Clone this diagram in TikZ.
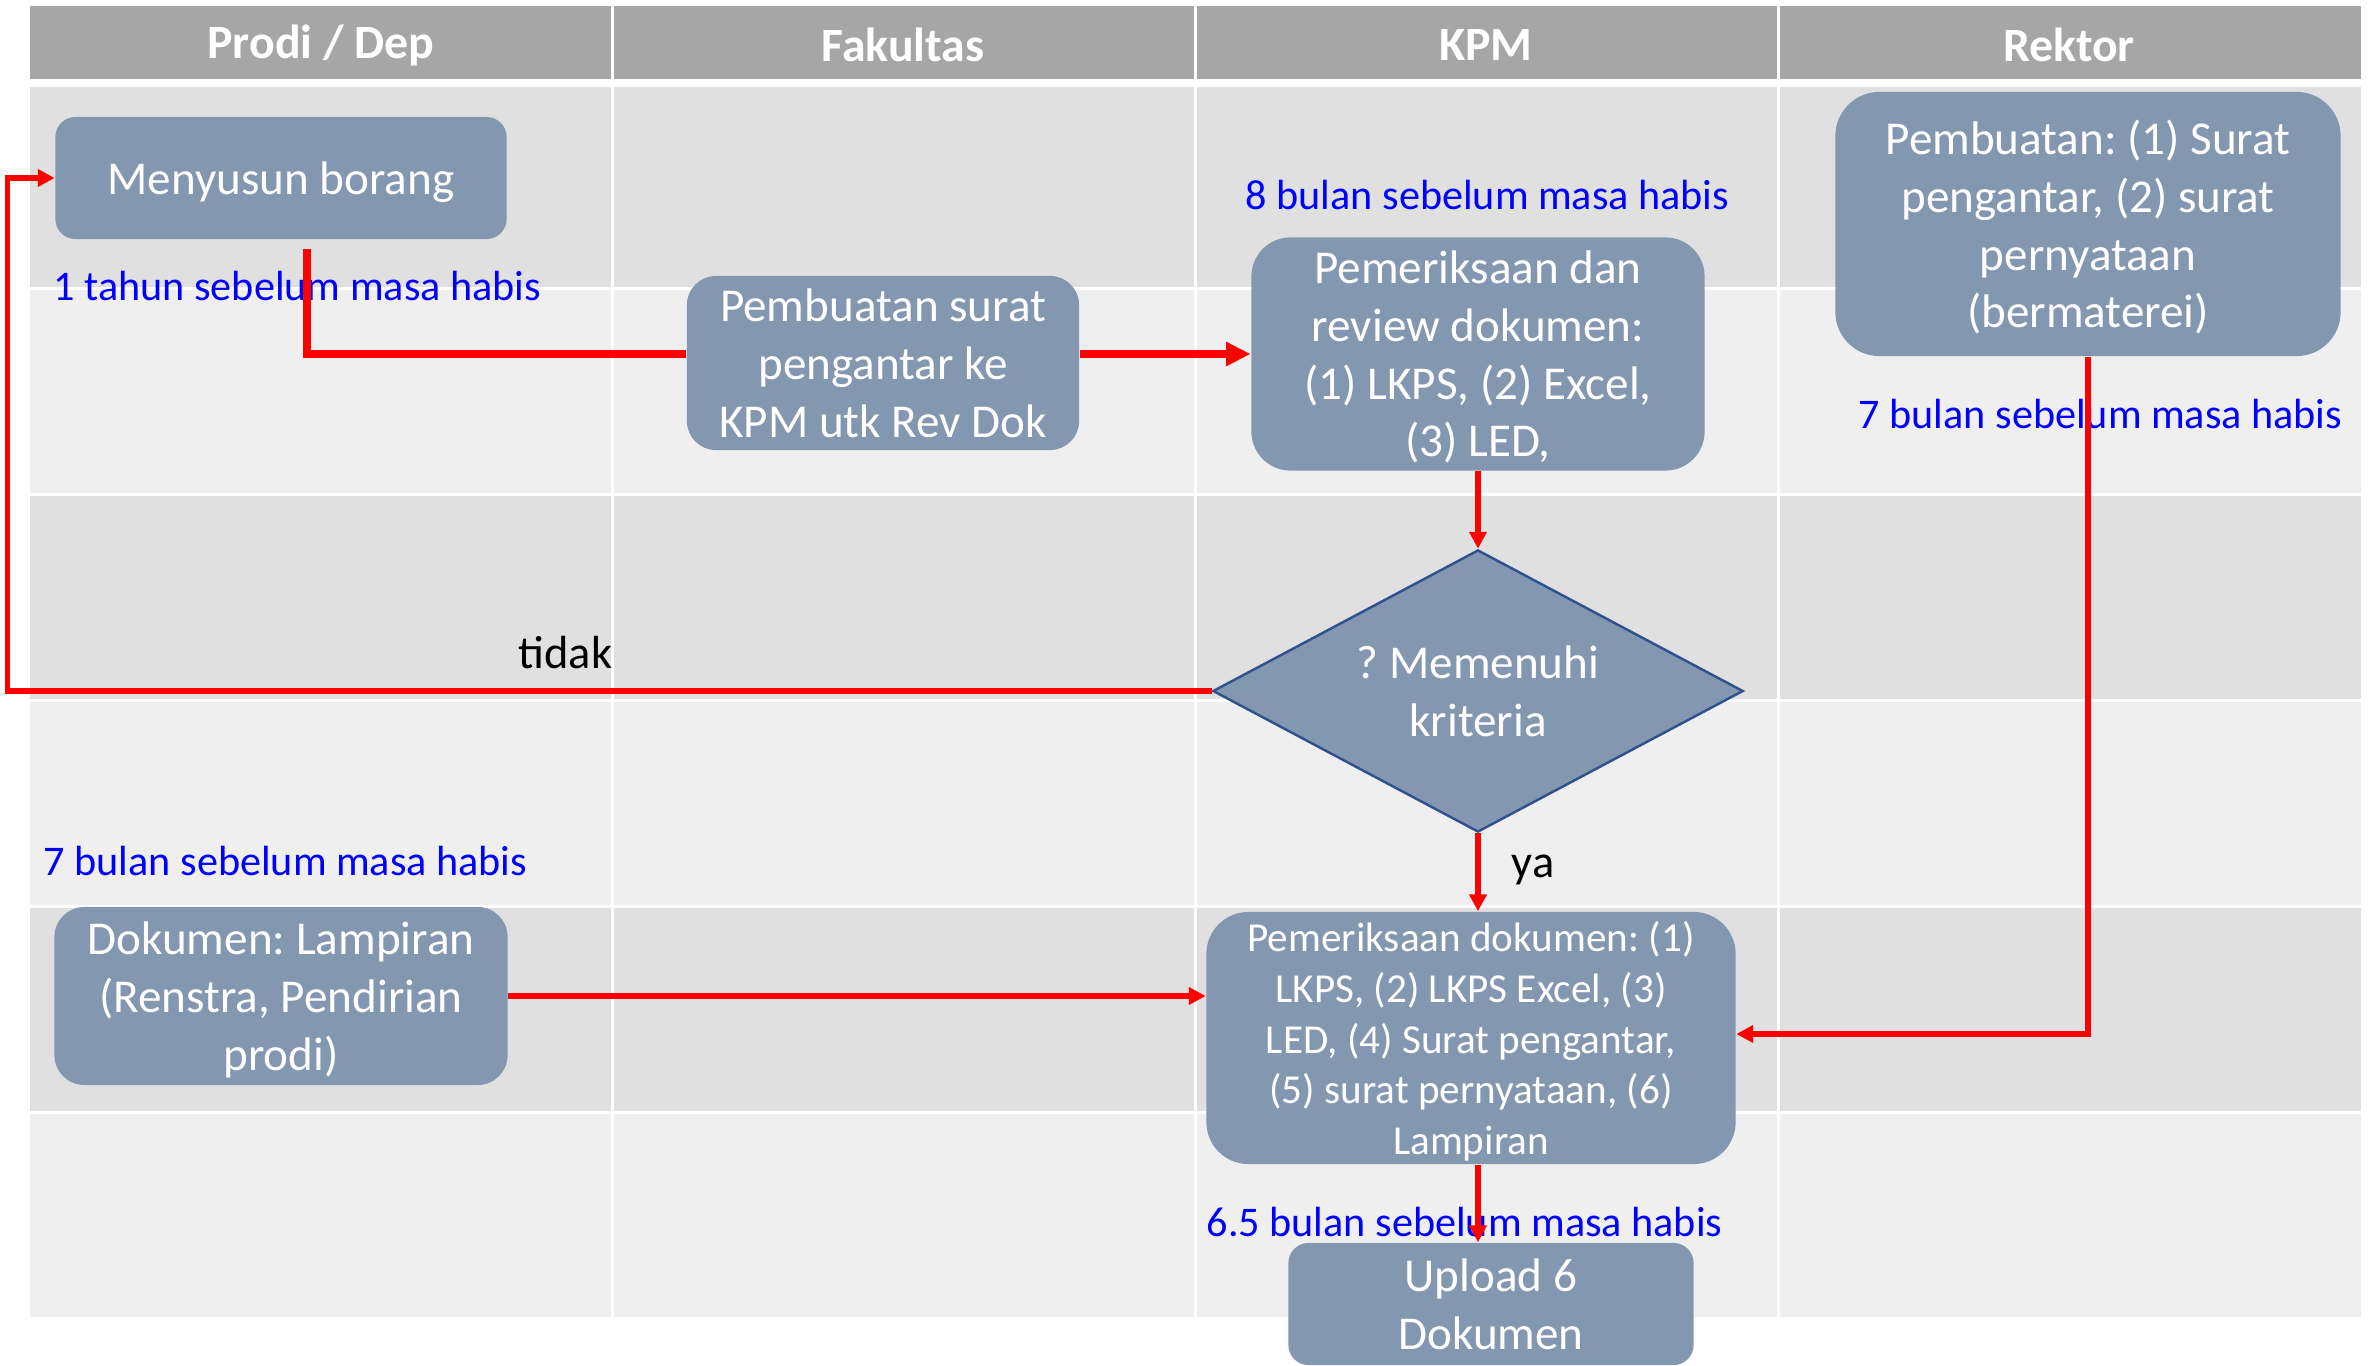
\documentclass[tikz,border=0pt]{standalone}
\usepackage{fontspec}
\setmainfont{Carlito}
\frenchspacing
\usetikzlibrary{arrows.meta,shapes.geometric,calc}
\definecolor{hdr}{RGB}{166,166,166}
\definecolor{rowA}{RGB}{224,224,224}
\definecolor{rowB}{RGB}{239,239,239}
\definecolor{boxc}{RGB}{132,151,176}
\definecolor{dborder}{RGB}{47,82,143}
\definecolor{lblue}{RGB}{0,0,255}
\definecolor{ared}{RGB}{255,0,0}
\begin{document}
\begin{tikzpicture}[x=0.01cm,y=-0.01cm,
  box/.style={fill=boxc, text=white, align=center, inner sep=0pt, text depth=0pt, font=\frenchspacing\fontsize{13.4}{16.4}\selectfont},
  smallbox/.style={box, font=\frenchspacing\fontsize{11.7}{14.4}\selectfont},
  hdrtxt/.style={text=white, font=\bfseries\fontsize{13.6}{16}\selectfont, inner sep=0pt},
  bluelbl/.style={text=lblue, font=\fontsize{12}{14}\selectfont, inner sep=0pt, anchor=base west},
  blacklbl/.style={text=black, font=\fontsize{13.2}{15}\selectfont, inner sep=0pt, anchor=base west},
  conn/.style={draw=ared, line width=1.45pt, -{Triangle[length=4.8pt,width=4.8pt]}},
  connthick/.style={draw=ared, line width=2pt, -{Triangle[length=7pt,width=6.5pt]}},
  sep/.style={draw=white, line width=0.03cm}
]
\useasboundingbox (0,0) rectangle (2374,1366);
\fill[white] (0,0) rectangle (2374,1366);
% header
\fill[hdr] (30,6) rectangle (2361,79);
% rows
\fill[rowA] (30,87) rectangle (2361,288);
\fill[rowB] (30,288) rectangle (2361,494);
\fill[rowA] (30,494) rectangle (2361,700);
\fill[rowB] (30,700) rectangle (2361,906);
\fill[rowA] (30,906) rectangle (2361,1112);
\fill[rowB] (30,1112) rectangle (2361,1317);
\foreach \y in {288,494,700,906,1112} \draw[sep] (30,\y) -- (2361,\y);
\foreach \x in {612,1195,1778} \draw[sep] (\x,6) -- (\x,1317);
% header texts
\node[hdrtxt] (h1) at (321,45) {Prodi / Dep};
\node[hdrtxt] (h2) at (903,45) {Fakultas};
\node[hdrtxt] (h3) at (1486,45) {KPM};
\node[hdrtxt] (h4) at (2069,45) {Rektor};
% labels
\node[bluelbl] (t1) at (53,300) {1 tahun sebelum masa habis};
\node[bluelbl] (t2) at (1245,209) {8 bulan sebelum masa habis};
\node[bluelbl] (t3) at (1858,428) {7 bulan sebelum masa habis};
\node[bluelbl] (t4) at (43,875) {7 bulan sebelum masa habis};
\node[bluelbl] (t5) at (1206,1236) {6.5 bulan sebelum masa habis};
\node[blacklbl] (ltidak) at (518,668) {tidak};
\node[blacklbl] (lya) at (1511,877) {ya};
% boxes
\node[box, minimum width=4.51cm, minimum height=1.22cm, rounded corners=0.2cm] (m) at (281,178) {Menyusun borang};
\node[box, minimum width=3.92cm, minimum height=1.74cm, rounded corners=0.29cm] (ps) at (883,363) {Pembuatan surat\\pengantar ke\\KPM utk Rev Dok};
\node[box, minimum width=4.53cm, minimum height=2.33cm, rounded corners=0.39cm] (rev) at (1478,354) {Pemeriksaan dan\\review dokumen:\\(1) LKPS, (2) Excel,\\(3) LED,};
\node[box, shape=diamond, draw=dborder, line width=0.7pt, minimum width=5.30cm, minimum height=2.82cm, shape aspect=1.88] (dm) at (1478,691) {? Memenuhi\\kriteria};
\node[box, minimum width=5.05cm, minimum height=2.64cm, rounded corners=0.44cm] (rek) at (2088,224) {Pembuatan: (1) Surat\\pengantar, (2) surat\\pernyataan\\(bermaterei)};
\node[box, minimum width=4.53cm, minimum height=1.78cm, rounded corners=0.3cm] (dl) at (281,996) {Dokumen: Lampiran\\(Renstra, Pendirian\\prodi)};
\node[smallbox, minimum width=5.29cm, minimum height=2.52cm, rounded corners=0.42cm] (pd) at (1471,1038) {Pemeriksaan dokumen: (1)\\LKPS, (2) LKPS Excel, (3)\\LED, (4) Surat pengantar,\\(5) surat pernyataan, (6)\\Lampiran};
\node[box, minimum width=4.05cm, minimum height=1.22cm, rounded corners=0.2cm] (up) at (1491,1304) {Upload 6\\Dokumen};
% connectors
\draw[draw=ared, line width=2.2pt] ($(m.south)+(26,9)$) |- (ps.west |- rev.west);
\draw[connthick] (ps.east |- rev.west) -- (rev.west);
\draw[conn] (rev.south) -- (dm.north);
\draw[conn] (dm.west) -| ([xshift=-0.47cm]m.west) -- (m.west);
\draw[conn] (dm.south) -- (dm.south |- pd.north);
\draw[conn] (dl.east) -- (dl.east -| pd.west);
\draw[conn] (rek.south) |- ([yshift=0.04cm]pd.east);
\draw[conn] (dm.south |- pd.south) -- (dm.south |- up.north);
\end{tikzpicture}
\end{document}
